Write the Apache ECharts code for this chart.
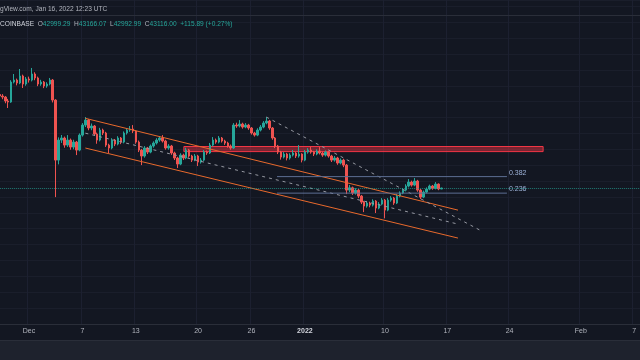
<!DOCTYPE html>
<html><head><meta charset="utf-8">
<script src="https://cdn.jsdelivr.net/npm/echarts/dist/echarts.min.js"></script>
<style>html,body{margin:0;padding:0;background:#131722;overflow:hidden}#c{width:640px;height:360px}</style>
</head><body><div id="c"></div>
<script>
// 8-hour BTCUSD candles starting 2021-11-27 16:00 UTC
const opens = [
54900,54710,54580,54080,53950,56470,56720,56350,57230,56220,
56850,56720,57480,56980,56220,56470,55970,56220,56720,54200,
46640,49160,49420,48530,49160,48280,48910,47900,49790,51050,
51680,50680,50930,49920,49160,50420,50050,48530,48160,49160,
48660,49420,48910,50050,50420,50550,50300,48910,47900,47150,
48160,47650,48410,48790,49160,49420,49040,48160,48410,47530,
46900,46140,47270,46900,47900,47150,46640,47150,46390,46640,
47650,47530,48530,49160,48910,49420,49040,48790,48410,48160,
51050,50930,51180,50800,51050,50680,50050,49790,50420,50800,
51310,51560,50680,49420,48410,47650,47020,47400,46900,47270,
47530,47150,47400,46640,47650,47900,47650,47400,47780,47530,
47270,47650,47150,46640,46900,46270,46640,46010,42860,43150,
42490,42860,42110,41350,40850,41230,40970,41480,40600,41100,
41600,40340,41600,41860,41230,42110,42490,42860,43370,43870,
43490,44000,42860,41980,42610,42990,43370,43080,43620,42999.29];
const closes = [
54710,54580,54080,53950,56470,56720,56350,57230,56220,56850,
56720,57480,56980,56220,56470,55970,56220,56720,54200,46640,
49160,49420,48530,49160,48280,48910,47900,49790,51050,51680,
50680,50930,49920,49160,50420,50050,48530,48160,49160,48660,
49420,48910,50050,50420,50550,50300,48910,47900,47150,48160,
47650,48410,48790,49160,49420,49040,48160,48410,47530,46900,
46140,47270,46900,47900,47150,46640,47150,46390,46640,47650,
47530,48530,49160,48910,49420,49040,48790,48410,48160,51050,
50930,51180,50800,51050,50680,50050,49790,50420,50800,51310,
51560,50680,49420,48410,47650,47020,47400,46900,47270,47530,
47150,47400,46640,47650,47900,47650,47400,47780,47530,47270,
47650,47150,46640,46900,46270,46640,46010,42860,43150,42490,
42860,42110,41350,40850,41230,40970,41480,40600,41100,41600,
40340,41600,41860,41230,42110,42490,42860,43370,43870,43490,
44000,42860,41980,42610,42990,43370,43080,43620,42999.29,43116.00];
const highs = [
55100,54950,54700,54350,56700,57480,56900,58110,57400,57100,
57150,58240,57700,57150,56750,56600,56450,56980,56850,54300,
49500,49800,49600,49790,49350,49200,49050,50000,51300,52060,
51800,51250,51050,50100,50700,50600,50200,48700,49400,49300,
49650,49550,50250,50650,50930,51050,50400,49100,48050,48400,
48300,48600,49000,49400,49670,49790,49200,48650,48550,47700,
47050,47500,47450,48200,48050,47300,47400,47300,46900,47900,
47850,48800,49540,49350,49670,49550,49200,48950,48600,51300,
51350,51680,51350,51300,51200,50800,50200,50650,51050,51550,
52060,51700,50800,49550,48550,47800,47650,47550,47500,47900,
47650,48530,47500,47900,48150,48280,47800,48000,48280,47700,
47850,47800,47300,47150,47050,46850,46800,46150,43500,43300,
43100,43000,42250,41500,41500,41400,41700,41600,41350,41850,
41750,41850,42100,42000,42350,42700,43100,43600,44250,44050,
44380,44150,43000,42800,43200,43550,43500,43870,43700,43166.07];
const lows = [
54450,54300,53800,53200,53850,56300,56050,56200,55720,56000,
56400,56550,56700,55950,56000,55700,55750,56050,53900,41980,
46100,48800,48200,48300,47950,48000,47270,47750,49600,50800,
50400,50400,49700,48700,49000,49800,48300,47530,48000,48400,
48500,48650,48750,49850,50200,50050,48700,47650,46010,46950,
47400,47500,48200,48600,48950,48850,47950,47950,47300,46650,
45640,46000,46650,46750,46950,46400,46500,45890,46200,46500,
47300,47400,48350,48700,48750,48850,48550,48200,47950,48050,
50700,50750,50600,50650,50450,49850,49600,49650,50250,50650,
51150,50450,49200,48150,47400,46700,46850,46600,46700,47100,
46900,46950,46350,46500,47450,47450,47150,47250,47350,47050,
47100,46950,46400,46450,46050,46100,45750,42360,42600,42250,
42300,41850,41100,40090,40650,40700,40800,39970,40450,40950,
39300,40200,41400,41000,41100,41950,42350,42700,43200,43300,
43350,42650,41730,41850,42450,42850,42900,42950,42850,42992.99];

const tickDates = ['2021-12-01 00:00','2021-12-07 00:00','2021-12-13 00:00','2021-12-20 00:00','2021-12-26 00:00',
  '2022-01-01 00:00','2022-01-10 00:00','2022-01-17 00:00','2022-01-24 00:00','2022-02-01 00:00','2022-02-07 00:00'];
const tickLabels = ['Dec','7','13','20','26','2022','10','17','24','Feb','7'];

// drawings (x in candle-index units, y in price)
const channelUpper = [[29, 51900], [154.6, 40340]];
const channelLower = [[29, 48160], [154.6, 36820]];
const channelMid = [[29, 50030], [154.6, 38580]];
const trendLine = [[90, 52060], [162, 37820]];
const resistanceZone = [[62.2, 48350], [183.3, 47710]];
const fibLabels = ['0.382', '0.236'];
const fibPrices = [44560, 42480];
const fibSpan = [93.6, 171.1];

const headerTitle = 'gView.com, Jan 16, 2022 12:23 UTC';
const headerExchange = 'COINBASE';
const headerChange = ['+115.89', '(+0.27%)'];

// categories: 8h slots
const N_SLOTS = 217;
const startMs = Date.UTC(2021, 10, 27, 16);
function fmt(ms){const d=new Date(ms);const p=n=>String(n).padStart(2,'0');
  return d.getUTCFullYear()+'-'+p(d.getUTCMonth()+1)+'-'+p(d.getUTCDate())+' '+p(d.getUTCHours())+':00';}
const categories = [];
for (let i = 0; i < N_SLOTS; i++) categories.push(fmt(startMs + i * 8 * 3600 * 1000));
const tickMap = {};
tickDates.forEach((d, i) => tickMap[d] = tickLabels[i]);
const isTick = (idx) => tickMap[categories[idx]] !== undefined;

const candleData = opens.map((o, i) => [o, closes[i], lows[i], highs[i]]);
const last = candleData.length - 1;

const UP = '#26a69a', DOWN = '#ef5350';
const chart = echarts.init(document.getElementById('c'), null, {renderer: 'canvas'});
const slotW = 8.9 / 3;
const gridLeft = -2.15;

const ohlcText = '{n|' + headerExchange + '}  {k|O}{v|' + opens[last].toFixed(2) + '}  {k|H}{v|' + highs[last].toFixed(2) +
  '}  {k|L}{v|' + lows[last].toFixed(2) + '}  {k|C}{v|' + closes[last].toFixed(2) + '}  {v|' + headerChange[0] + ' ' + headerChange[1] + '}';

const lineCommon = {type: 'line', xAxisIndex: 1, yAxisIndex: 0, symbol: 'none', silent: true, animation: false};

chart.setOption({
  backgroundColor: '#131722',
  animation: false,
  grid: {left: gridLeft, top: 0, width: slotW * N_SLOTS, height: 324, containLabel: false, outerBoundsMode: 'none'},
  xAxis: [{
    type: 'category', data: categories, boundaryGap: true,
    axisLine: {show: true, lineStyle: {color: '#2a2e39', width: 1}},
    axisTick: {show: false, alignWithLabel: true, interval: (i) => isTick(i)},
    axisLabel: {show: true, interval: (i) => isTick(i), margin: 4, color: '#b2b5be', fontSize: 7,
      fontFamily: 'Liberation Sans',
      formatter: (v) => tickMap[v] === '2022' ? '{b|2022}' : (tickMap[v] || ''),
      rich: {b: {fontWeight: 'bold', color: '#d1d4dc', fontSize: 7, fontFamily: 'Liberation Sans'}}},
    splitLine: {show: true, interval: (i) => isTick(i), lineStyle: {color: '#1c2030', width: 1}}
  }, {
    type: 'value', min: -0.5, max: N_SLOTS - 0.5, show: false
  }],
  yAxis: {type: 'value', min: 26000, max: 66800, interval: 2000, position: 'right',
    axisLine: {show: false}, axisTick: {show: false}, axisLabel: {show: false},
    splitLine: {show: true, lineStyle: {color: '#1a1e2b', width: 1}}},
  series: [
    Object.assign({}, lineCommon, {name: 'zone', data: resistanceZone, lineStyle: {opacity: 0}, z: 1,
      markArea: {silent: true, itemStyle: {color: 'rgba(242,54,69,0.45)', borderColor: '#f23645', borderWidth: 1},
        data: [[{coord: resistanceZone[0]}, {coord: resistanceZone[1]}]]}}),
    {
      type: 'candlestick', data: candleData, barWidth: 2, z: 3,
      itemStyle: {color: UP, color0: DOWN, borderColor: UP, borderColor0: DOWN, borderWidth: 1},
      markLine: {silent: true, symbol: ['none', 'none'], label: {show: false},
        lineStyle: {type: 'dotted', color: UP, width: 1, opacity: 0.7},
        data: [{yAxis: closes[last]}]}
    },
    Object.assign({}, lineCommon, {data: channelUpper, lineStyle: {color: '#e8692c', width: 1}, z: 4}),
    Object.assign({}, lineCommon, {data: channelLower, lineStyle: {color: '#e8692c', width: 1}, z: 4}),
    Object.assign({}, lineCommon, {data: channelMid, lineStyle: {color: '#9598a1', width: 1, type: [3, 4]}, z: 4}),
    Object.assign({}, lineCommon, {data: trendLine, lineStyle: {color: '#9598a1', width: 1, type: [3, 4]}, z: 4}),
  ].concat(fibPrices.map((p, k) => Object.assign({}, lineCommon, {
    data: [[fibSpan[0], p], [fibSpan[1], p]], lineStyle: {color: '#5d6f94', width: 1}, z: 4,
    endLabel: {show: true, formatter: fibLabels[k], color: '#9db2d8', fontSize: 7, fontFamily: 'Liberation Sans',
      distance: 2, offset: [0, -4]}
  }))),
  graphic: [
    {type: 'line', z: 50, shape: {x1: 0, y1: 15.5, x2: 640, y2: 15.5}, style: {stroke: '#2a2e39', lineWidth: 1}},
    {type: 'text', z: 60, x: 0, y: 9, style: {text: headerTitle, fill: '#b2b5be', fontSize: 6.6,
      fontFamily: 'Liberation Sans', verticalAlign: 'middle', align: 'left'}},
    {type: 'text', z: 60, x: 0, y: 24, style: {text: ohlcText, fontSize: 6.6, fontFamily: 'Liberation Sans',
      verticalAlign: 'middle', align: 'left',
      rich: {n: {fill: '#d1d4dc', fontSize: 6.6, fontFamily: 'Liberation Sans'},
             k: {fill: '#b2b5be', fontSize: 6.6, fontFamily: 'Liberation Sans'},
             v: {fill: UP, fontSize: 6.6, fontFamily: 'Liberation Sans'}}}},
    {type: 'line', z: 50, shape: {x1: 0, y1: 340.5, x2: 640, y2: 340.5}, style: {stroke: '#2a2e39', lineWidth: 1}},
    {type: 'rect', z: 49, shape: {x: 0, y: 341, width: 640, height: 19}, style: {fill: '#1e222d'}}
  ]
});
</script></body></html>
